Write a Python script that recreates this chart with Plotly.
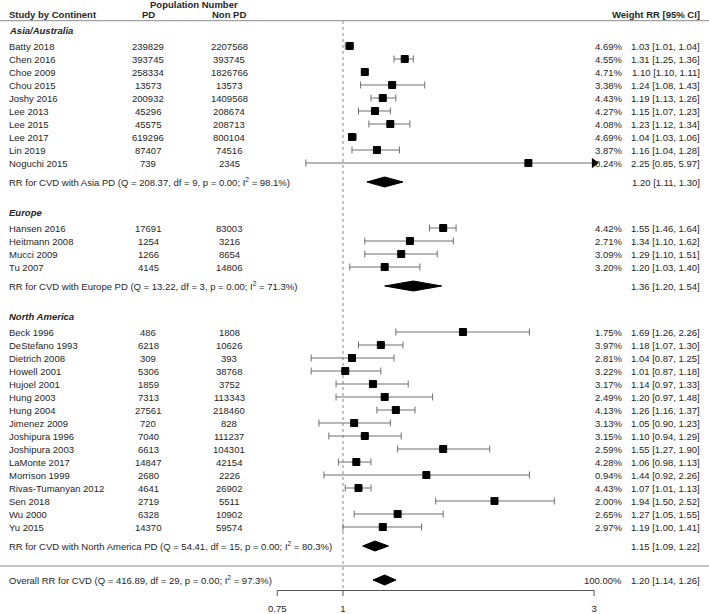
import plotly.graph_objects as go
import math

# ---------------- data ----------------
asia_names = ["Batty 2018", "Chen 2016", "Choe 2009", "Chou 2015", "Joshy 2016",
              "Lee 2013", "Lee 2015", "Lee 2017", "Lin 2019", "Noguchi 2015"]
asia_pd = [239829, 393745, 258334, 13573, 200932, 45296, 45575, 619296, 87407, 739]
asia_nonpd = [2207568, 393745, 1826766, 13573, 1409568, 208674, 208713, 800104, 74516, 2345]
asia_weight = [4.69, 4.55, 4.71, 3.38, 4.43, 4.27, 4.08, 4.69, 3.87, 0.24]
asia_rr = [1.03, 1.31, 1.10, 1.24, 1.19, 1.15, 1.23, 1.04, 1.16, 2.25]
asia_lo = [1.01, 1.25, 1.10, 1.08, 1.13, 1.07, 1.12, 1.03, 1.04, 0.85]
asia_hi = [1.04, 1.36, 1.11, 1.43, 1.26, 1.23, 1.34, 1.06, 1.28, 5.97]
asia_summary = dict(rr=1.20, lo=1.11, hi=1.30, Q="208.37", df=9, p="0.00", I2="98.1")

europe_names = ["Hansen 2016", "Heitmann 2008", "Mucci 2009", "Tu 2007"]
europe_pd = [17691, 1254, 1266, 4145]
europe_nonpd = [83003, 3216, 8654, 14806]
europe_weight = [4.42, 2.71, 3.09, 3.20]
europe_rr = [1.55, 1.34, 1.29, 1.20]
europe_lo = [1.46, 1.10, 1.10, 1.03]
europe_hi = [1.64, 1.62, 1.51, 1.40]
europe_summary = dict(rr=1.36, lo=1.20, hi=1.54, Q="13.22", df=3, p="0.00", I2="71.3")

na_names = ["Beck 1996", "DeStefano 1993", "Dietrich 2008", "Howell 2001", "Hujoel 2001",
            "Hung 2003", "Hung 2004", "Jimenez 2009", "Joshipura 1996", "Joshipura 2003",
            "LaMonte 2017", "Morrison 1999", "Rivas-Tumanyan 2012", "Sen 2018", "Wu 2000", "Yu 2015"]
na_pd = [486, 6218, 309, 5306, 1859, 7313, 27561, 720, 7040, 6613, 14847, 2680, 4641, 2719, 6328, 14370]
na_nonpd = [1808, 10626, 393, 38768, 3752, 113343, 218460, 828, 111237, 104301, 42154, 2226,
            26902, 5511, 10902, 59574]
na_weight = [1.75, 3.97, 2.81, 3.22, 3.17, 2.49, 4.13, 3.13, 3.15, 2.59, 4.28, 0.94, 4.43, 2.00, 2.65, 2.97]
na_rr = [1.69, 1.18, 1.04, 1.01, 1.14, 1.20, 1.26, 1.05, 1.10, 1.55, 1.06, 1.44, 1.07, 1.94, 1.27, 1.19]
na_lo = [1.26, 1.07, 0.87, 0.87, 0.97, 0.97, 1.16, 0.90, 0.94, 1.27, 0.98, 0.92, 1.01, 1.50, 1.05, 1.00]
na_hi = [2.26, 1.30, 1.25, 1.18, 1.33, 1.48, 1.37, 1.23, 1.29, 1.90, 1.13, 2.26, 1.13, 2.52, 1.55, 1.41]
na_summary = dict(rr=1.15, lo=1.09, hi=1.22, Q="54.41", df=15, p="0.00", I2="80.3")

overall = dict(rr=1.20, lo=1.14, hi=1.26, Q="416.89", df=29, p="0.00", I2="97.3", weight="100.00%")

tick_values = [0.75, 1, 3]
tick_labels = ["0.75", "1", "3"]

groups = [
    ("Asia/Australia", "Asia", asia_names, asia_pd, asia_nonpd, asia_weight, asia_rr, asia_lo, asia_hi, asia_summary),
    ("Europe", "Europe", europe_names, europe_pd, europe_nonpd, europe_weight, europe_rr, europe_lo, europe_hi, europe_summary),
    ("North America", "North America", na_names, na_pd, na_nonpd, na_weight, na_rr, na_lo, na_hi, na_summary),
]

# ---------------- layout constants ----------------
W, H = 709, 614
FONT = "Liberation Sans, Arial, Helvetica, sans-serif"
FS = 9.5
TXT = "#262626"
GRAY = "#6e6e6e"
ROW = 13
X_NAME, X_PD, X_NONPD, X_W, X_CI = 6.5, 148, 229, 624, 702
PX_ONE, PX_PER_LN = 343, 228.6
CLIP = max(tick_values)
HALF_D = 5
CAP = 3.5

def px(v):
    return v / W

annotations = []
def add_text(x, y, text, anchor="left", bold=False, italic=False):
    t = text
    if bold:
        t = "<b>" + t + "</b>"
    if italic:
        t = "<i>" + t + "</i>"
    annotations.append(dict(x=px(x), y=y, xref="paper", yref="y", text=t, showarrow=False,
                            xanchor=anchor, yanchor="middle",
                            font=dict(family=FONT, size=FS, color=TXT)))

# headers
add_text(194, 4.8, "Population Number", "center", bold=True)
add_text(X_NAME, 14, "Study by Continent", bold=True)
add_text(X_PD, 14.3, "PD", "center", bold=True)
add_text(X_NONPD, 14.3, "Non PD", "center", bold=True)
add_text(X_CI, 14, "Weight RR [95% CI]", "right", bold=True)

sq_x, sq_y = [], []
ci_x, ci_y = [], []
arrow_x, arrow_y = [], []
diamonds = []

y = 30
for title, short, names, pd_, npd, wt, rr, lo, hi, summ in groups:
    add_text(X_NAME, y, title, bold=True, italic=True)
    y += 16
    for i in range(len(names)):
        add_text(X_NAME, y, names[i])
        add_text(X_PD, y, str(pd_[i]), "center")
        add_text(X_NONPD, y, str(npd[i]), "center")
        add_text(X_W, y, f"{wt[i]:.2f}%", "right")
        add_text(X_CI, y, f"{rr[i]:.2f} [{lo[i]:.2f}, {hi[i]:.2f}]", "right")
        sq_x.append(rr[i]); sq_y.append(y)
        right = min(hi[i], CLIP)
        ci_x += [lo[i], right, None, lo[i], lo[i], None]
        ci_y += [y, y, None, y - CAP, y + CAP, None]
        if hi[i] > CLIP:
            arrow_x.append(CLIP); arrow_y.append(y)
        else:
            ci_x += [hi[i], hi[i], None]
            ci_y += [y - CAP, y + CAP, None]
        y += ROW
    y += 19 - ROW
    add_text(X_NAME, y, f"RR for CVD with {short} PD (Q = {summ['Q']}, df = {summ['df']}, "
                        f"p = {summ['p']}; I<sup>2</sup> = {summ['I2']}%)")
    add_text(X_CI, y, f"{summ['rr']:.2f} [{summ['lo']:.2f}, {summ['hi']:.2f}]", "right")
    diamonds.append((summ, y))
    last_summary_y = y
    y += 30

line_y = last_summary_y + 20
overall_y = last_summary_y + 34
axis_y = overall_y + 10.5
add_text(X_NAME, overall_y, f"Overall RR for CVD (Q = {overall['Q']}, df = {overall['df']}, "
                            f"p = {overall['p']}; I<sup>2</sup> = {overall['I2']}%)")
add_text(X_W, overall_y, overall["weight"], "right")
add_text(X_CI, overall_y, f"{overall['rr']:.2f} [{overall['lo']:.2f}, {overall['hi']:.2f}]", "right")
diamonds.append((overall, overall_y))

fig = go.Figure()

# reference dotted line at RR = 1
fig.add_trace(go.Scatter(x=[1, 1], y=[21, axis_y], mode="lines",
                         line=dict(color="#8a8a8a", width=1, dash="dot"), hoverinfo="skip"))

# confidence intervals
fig.add_trace(go.Scatter(x=ci_x, y=ci_y, mode="lines", line=dict(color=GRAY, width=1),
                         hoverinfo="skip"))
# arrows for clipped CI
fig.add_trace(go.Scatter(x=arrow_x, y=arrow_y, mode="markers",
                         marker=dict(symbol="triangle-right", size=9, color="black"),
                         hoverinfo="skip"))
# study squares
fig.add_trace(go.Scatter(x=sq_x, y=sq_y, mode="markers",
                         marker=dict(symbol="square", size=7, color="black",
                                     line=dict(color="black", width=1)),
                         hoverinfo="skip"))
# diamonds
for summ, yy in diamonds:
    fig.add_trace(go.Scatter(x=[summ["lo"], summ["rr"], summ["hi"], summ["rr"], summ["lo"]],
                             y=[yy, yy - HALF_D, yy, yy + HALF_D, yy],
                             mode="lines", fill="toself", fillcolor="black",
                             line=dict(color="black", width=1), hoverinfo="skip"))

# custom x axis
ax_x = [tick_values[0], tick_values[-1], None]
ax_y = [axis_y, axis_y, None]
for t in tick_values:
    ax_x += [t, t, None]
    ax_y += [axis_y, axis_y + 5.5, None]
fig.add_trace(go.Scatter(x=ax_x, y=ax_y, mode="lines", line=dict(color="#555555", width=1),
                         hoverinfo="skip"))
fig.add_trace(go.Scatter(x=tick_values, y=[axis_y + 19.5] * len(tick_values), mode="text",
                         text=tick_labels, textposition="middle center",
                         textfont=dict(family=FONT, size=FS, color=TXT), hoverinfo="skip"))

shapes = [
    dict(type="line", xref="paper", yref="y", x0=0, x1=1, y0=20.7, y1=20.7,
         line=dict(color="#8a8a8a", width=1)),
    dict(type="line", xref="paper", yref="y", x0=0, x1=1, y0=line_y, y1=line_y,
         line=dict(color="#8a8a8a", width=1)),
]

lo_log = (0 - PX_ONE) / (PX_PER_LN * math.log(10))
hi_log = (W - PX_ONE) / (PX_PER_LN * math.log(10))

fig.update_layout(
    width=W, height=H,
    margin=dict(l=0, r=0, t=0, b=0),
    paper_bgcolor="white", plot_bgcolor="white",
    showlegend=False,
    xaxis=dict(type="log", range=[lo_log, hi_log], visible=False, fixedrange=True),
    yaxis=dict(range=[H, 0], visible=False, fixedrange=True),
    annotations=annotations,
    shapes=shapes,
)

fig.write_html("out.html", config={"displayModeBar": False},
               post_script="document.body.style.margin='0';document.body.style.overflow='hidden';")
